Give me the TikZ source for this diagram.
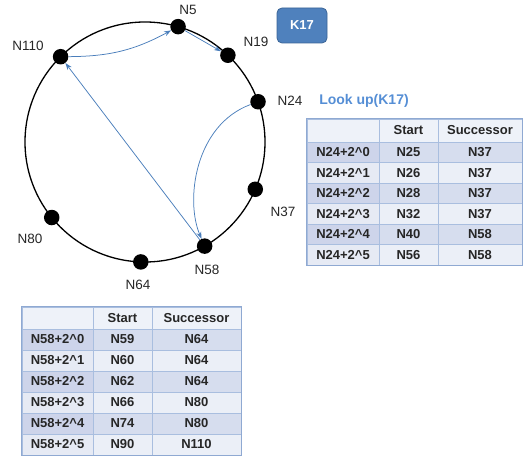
\documentclass[tikz,border=0pt]{standalone}
\usepackage{fontspec}
\setmainfont{Liberation Sans}
\usetikzlibrary{arrows.meta,calc}
\definecolor{arrblue}{HTML}{4A7EBB}
\definecolor{keyfill}{HTML}{4F81BD}
\definecolor{keydraw}{HTML}{3A6496}
\definecolor{lookblue}{HTML}{558ED5}
\definecolor{tabline}{HTML}{A9BEDF}
\definecolor{tabouter}{HTML}{8FA9D2}
\definecolor{hdrfill}{HTML}{EEF2F9}
\definecolor{bandA}{HTML}{CDD4EA}
\definecolor{bandB}{HTML}{D6DDEE}
\definecolor{plainA}{HTML}{E6EAF4}
\definecolor{plainB}{HTML}{EBEFF7}
\tikzset{
  ring/.style={draw=black, line width=1.3pt},
  dot/.style={circle, fill=black, inner sep=0pt, minimum size=15.5pt},
  lbl/.style={font=\fontsize{13.5}{15}\selectfont, text=black!85},
  arr/.style={draw=arrblue, line width=0.75pt, -{Stealth[length=7pt,width=5pt]}},
  cell/.style={draw=tabline, line width=0.6pt, inner sep=0pt, font=\bfseries\fontsize{13}{15}\selectfont, text=black!85},
  keybox/.style={rounded corners=5pt, fill=keyfill, draw=keydraw, line width=0.8pt, minimum width=50pt, minimum height=35pt, text=white, font=\bfseries\fontsize{13}{15}\selectfont},
}
\begin{document}
\begin{tikzpicture}[x=1pt,y=1pt]
\useasboundingbox (0,0) rectangle (523,-457);
% ring
\coordinate (c) at (145,-142);
\draw[ring] (c) circle (120);
\node[dot] (n5)   at ($(c)+(74:120)$) {};
\node[dot] (n19)  at ($(c)+(46.3:120)$) {};
\node[dot] (n24)  at ($(c)+(19.6:120)$) {};
\node[dot] (n37)  at ($(c)+(-23.2:120)$) {};
\node[dot] (n58)  at ($(c)+(-60.2:120)$) {};
\node[dot] (n64)  at ($(c)+(-92:120)$) {};
\node[dot] (n80)  at ($(c)+(-141:120)$) {};
\node[dot] (n110) at ($(c)+(134.7:120)$) {};
% labels
\node[lbl] (l5)   at (188,-10) {N5};
\node[lbl] (l19)  at (256,-42) {N19};
\node[lbl] (l110) at (28,-46) {N110};
\node[lbl] (l24)  at (290,-101) {N24};
\node[lbl] (l37)  at (283,-212) {N37};
\node[lbl] (l58)  at (207,-270) {N58};
\node[lbl] (l64)  at (138,-285) {N64};
\node[lbl] (l80)  at (30,-239) {N80};
% arrows
\draw[arr] (n110) to[bend right=14] (n5);
\draw[arr] (n5) -- (n19);
\draw[arr] (n24) .. controls (195,-125) and (185,-200) .. (n58);
\draw[arr] (n58) -- (n110);
% key and lookup
\node[keybox] (key) at (302,-25.5) {K17};
\node[font=\bfseries\fontsize{14}{16}\selectfont, text=lookblue] (look) at (364,-101) {Look up(K17)};
% table 1
\node[cell, fill=hdrfill, minimum width=72pt, minimum height=23pt] (t1-0-1) at (343,-130.5) {};
\node[cell, fill=hdrfill, minimum width=59pt, minimum height=23pt] (t1-0-2) at (408.5,-130.5) {Start};
\node[cell, fill=hdrfill, minimum width=84pt, minimum height=23pt] (t1-0-3) at (480,-130.5) {Successor};
\foreach \r/\a/\b/\cc in {1/N24+2\textasciicircum 0/N25/N37, 2/N24+2\textasciicircum 1/N26/N37, 3/N24+2\textasciicircum 2/N28/N37, 4/N24+2\textasciicircum 3/N32/N37, 5/N24+2\textasciicircum 4/N40/N58, 6/N24+2\textasciicircum 5/N56/N58}{
  \pgfmathsetmacro{\yy}{-(142+20.5*(\r-0.5))}
  \pgfmathtruncatemacro{\odd}{mod(\r,2)}
  \ifnum\odd=1 \def\fa{bandA}\def\fb{bandB}\else\def\fa{plainA}\def\fb{plainB}\fi
  \node[cell, fill=\fa, minimum width=72pt, minimum height=20.5pt] (t1-\r-1) at (343,\yy) {\a};
  \node[cell, fill=\fb, minimum width=59pt, minimum height=20.5pt] (t1-\r-2) at (408.5,\yy) {\b};
  \node[cell, fill=\fb, minimum width=84pt, minimum height=20.5pt] (t1-\r-3) at (480,\yy) {\cc};
}
\draw[tabouter, line width=0.8pt] (t1-0-1.north west) rectangle (t1-6-3.south east);
% table 2
\node[cell, fill=hdrfill, minimum width=71pt, minimum height=22pt] (t2-0-1) at (57.5,-318) {};
\node[cell, fill=hdrfill, minimum width=59pt, minimum height=22pt] (t2-0-2) at (122.5,-318) {Start};
\node[cell, fill=hdrfill, minimum width=89pt, minimum height=22pt] (t2-0-3) at (196.5,-318) {Successor};
\foreach \r/\a/\b/\cc in {1/N58+2\textasciicircum 0/N59/N64, 2/N58+2\textasciicircum 1/N60/N64, 3/N58+2\textasciicircum 2/N62/N64, 4/N58+2\textasciicircum 3/N66/N80, 5/N58+2\textasciicircum 4/N74/N80, 6/N58+2\textasciicircum 5/N90/N110}{
  \pgfmathsetmacro{\yy}{-(329+21*(\r-0.5))}
  \pgfmathtruncatemacro{\odd}{mod(\r,2)}
  \ifnum\odd=1 \def\fa{bandA}\def\fb{bandB}\else\def\fa{plainA}\def\fb{plainB}\fi
  \node[cell, fill=\fa, minimum width=71pt, minimum height=21pt] (t2-\r-1) at (57.5,\yy) {\a};
  \node[cell, fill=\fb, minimum width=59pt, minimum height=21pt] (t2-\r-2) at (122.5,\yy) {\b};
  \node[cell, fill=\fb, minimum width=89pt, minimum height=21pt] (t2-\r-3) at (196.5,\yy) {\cc};
}
\draw[tabouter, line width=0.8pt] (t2-0-1.north west) rectangle (t2-6-3.south east);
\end{tikzpicture}
\end{document}
